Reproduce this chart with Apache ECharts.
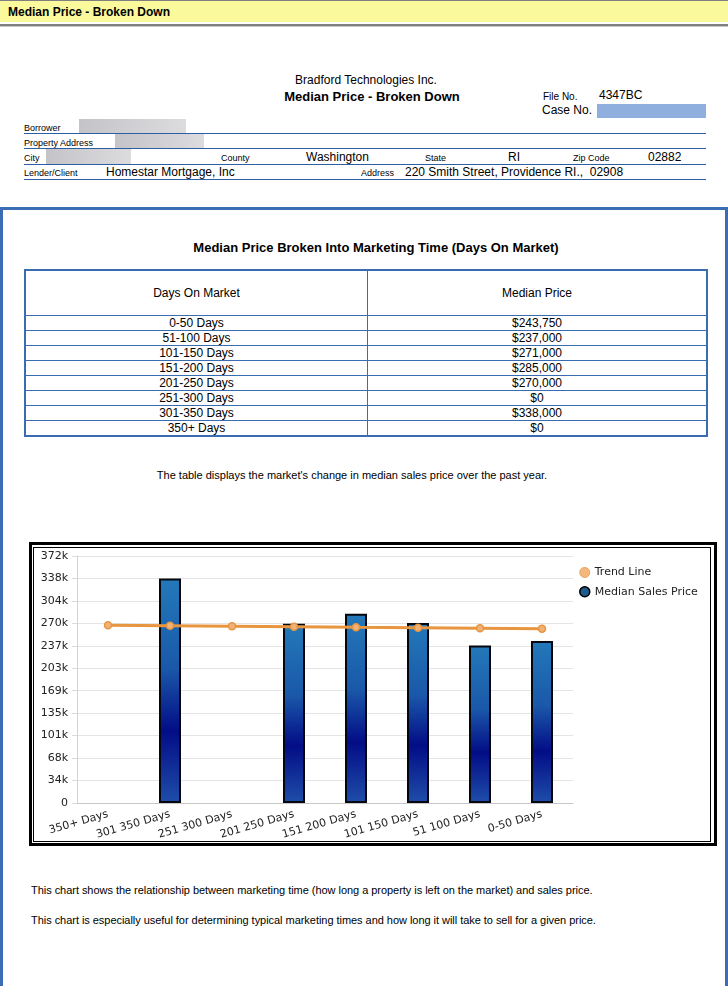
<!DOCTYPE html>
<html>
<head>
<meta charset="utf-8">
<title>Median Price - Broken Down</title>
<script src="https://cdn.jsdelivr.net/npm/echarts@6/dist/echarts.min.js"></script>
<style>
  html, body { margin: 0; padding: 0; background: #fff; }
  body { width: 728px; height: 986px; position: relative; overflow: hidden; font-family: "Liberation Sans", Arial, sans-serif; color: #000; }
  .abs { position: absolute; white-space: nowrap; }
  .lbl { font-size: 9px; line-height: 10px; }
  .val { font-size: 12px; line-height: 14px; }
  .rule { position: absolute; left: 24px; width: 682px; height: 1px; background: #2c5ea6; }
  .mask { position: absolute; background: linear-gradient(to right, #c4c4c8, #dcdcdf); }
  #grid-table { position: absolute; left: 24px; top: 269px; width: 684px; border-collapse: collapse; border: 2px solid #3a6cb3; font-size: 12px; }
  #grid-table td, #grid-table th { border: 1px solid #3a6cb3; text-align: center; padding: 0; font-weight: normal; }
  #grid-table th { height: 44px; }
  #grid-table td { height: 14px; line-height: 14px; }
</style>
</head>
<body>
<!-- top bar -->
<div class="abs" style="left:0;top:0;width:728px;height:21px;background:#fafa9c;border-top:1px solid #808080;"></div>
<div class="abs" style="left:8px;top:5px;font-size:12px;line-height:14px;font-weight:bold;">Median Price - Broken Down</div>
<div class="abs" style="left:0;top:24px;width:728px;height:2px;background:#7f7f7f;"></div>
<div class="abs" style="left:0;top:26px;width:728px;height:1px;background:#c8c8c8;"></div>

<!-- report header -->
<div class="abs" style="left:266px;top:73px;width:200px;text-align:center;font-size:12px;line-height:14px;">Bradford Technologies Inc.</div>
<div class="abs" style="left:222px;top:89px;width:300px;text-align:center;font-size:13px;line-height:15px;font-weight:bold;">Median Price - Broken Down</div>
<div class="abs" style="left:543px;top:91px;font-size:10px;line-height:12px;">File No.</div>
<div class="abs val" style="left:599px;top:88px;">4347BC</div>
<div class="abs val" style="left:542px;top:103px;">Case No.</div>
<div class="abs" style="left:597px;top:104px;width:109px;height:14px;background:#8fb0df;"></div>

<div class="mask" style="left:79px;top:119px;width:107px;height:14px;"></div>
<div class="mask" style="left:115px;top:134px;width:89px;height:14px;"></div>
<div class="mask" style="left:46px;top:149px;width:85px;height:15px;"></div>

<div class="abs lbl" style="left:24px;top:123px;">Borrower</div>
<div class="abs lbl" style="left:24px;top:138px;">Property Address</div>
<div class="abs lbl" style="left:24px;top:153px;">City</div>
<div class="abs lbl" style="left:221px;top:153px;">County</div>
<div class="abs val" style="left:306px;top:150px;">Washington</div>
<div class="abs lbl" style="left:425px;top:153px;">State</div>
<div class="abs val" style="left:508px;top:150px;">RI</div>
<div class="abs lbl" style="left:573px;top:153px;">Zip Code</div>
<div class="abs val" style="left:648px;top:150px;">02882</div>
<div class="abs lbl" style="left:24px;top:168px;">Lender/Client</div>
<div class="abs val" style="left:106px;top:165px;">Homestar Mortgage, Inc</div>
<div class="abs lbl" style="left:361px;top:168px;">Address</div>
<div class="abs val" style="left:405px;top:165px;">220 Smith Street, Providence RI.,&nbsp; 02908</div>

<div class="rule" style="top:133px;"></div>
<div class="rule" style="top:148px;"></div>
<div class="rule" style="top:164px;"></div>
<div class="rule" style="top:179px;"></div>

<!-- blue frame -->
<div class="abs" style="left:0;top:207px;width:728px;height:800px;border:3px solid #3c6db4;box-sizing:border-box;"></div>

<div class="abs" style="left:126px;top:240px;width:500px;text-align:center;font-size:13px;line-height:15px;font-weight:bold;">Median Price Broken Into Marketing Time (Days On Market)</div>

<table id="grid-table">
  <thead><tr><th style="width:341px;">Days On Market</th><th>Median Price</th></tr></thead>
  <tbody id="rows"></tbody>
</table>

<div class="abs" style="left:102px;top:469px;width:500px;text-align:center;font-size:11px;line-height:13px;">The table displays the market's change in median sales price over the past year.</div>

<!-- chart box -->
<div class="abs" style="left:29px;top:542px;width:688px;height:304px;border:3px solid #000;box-sizing:border-box;"></div>
<div class="abs" style="left:33px;top:547px;width:678px;height:295px;border:1px solid #000;box-sizing:border-box;"></div>
<div id="chart" class="abs" style="left:36px;top:549px;width:672px;height:290px;"></div>

<div class="abs" style="left:31px;top:884px;font-size:11px;line-height:13px;letter-spacing:-0.04px;">This chart shows the relationship between marketing time (how long a property is left on the market) and sales price.</div>
<div class="abs" style="left:31px;top:914px;font-size:11px;line-height:13px;letter-spacing:-0.04px;">This chart is especially useful for determining typical marketing times and how long it will take to sell for a given price.</div>

<script>
// table data
var tableDays = ['0-50 Days', '51-100 Days', '101-150 Days', '151-200 Days', '201-250 Days', '251-300 Days', '301-350 Days', '350+ Days']
var tablePrices = ['$243,750', '$237,000', '$271,000', '$285,000', '$270,000', '$0', '$338,000', '$0']

// chart data (as drawn, newest range on the right)
var chartCategories = ['350+ Days', '301 350 Days', '251 300 Days', '201 250 Days', '151 200 Days', '101 150 Days', '51 100 Days', '0-50 Days']
var salesPrice = [0, 338000, 0, 270000, 285000, 271000, 237000, 243750]
var trendLine = [267400, 266700, 266000, 265300, 264500, 263800, 263100, 262400]

// y axis ticks: 0, 34k ... 372k
var yMin = 0
var yMax = 371800
var yStep = 33800

var tbody = document.getElementById('rows')
for (var i = 0; i < tableDays.length; i++) {
  var tr = document.createElement('tr')
  tr.innerHTML = '<td>' + tableDays[i] + '</td><td>' + tablePrices[i] + '</td>'
  tbody.appendChild(tr)
}

var chart = echarts.init(document.getElementById('chart'))

var barData = salesPrice.map(function(v) {
  // empty ranges draw nothing, not even the outline
  return v === 0 ? { value: 0, itemStyle: { borderWidth: 0 } } : v
})

chart.setOption({
  animation: false,
  textStyle: { fontFamily: 'DejaVu Sans' },
  legend: {
    orient: 'vertical',
    left: 538,
    top: 13,
    icon: 'circle',
    itemWidth: 10,
    itemHeight: 10,
    itemGap: 8,
    textStyle: { fontSize: 11, color: '#222', fontFamily: 'DejaVu Sans' },
    data: [
      { name: 'Trend Line', itemStyle: { color: '#f4b77c', borderColor: '#e9a35a', borderWidth: 1 } },
      { name: 'Median Sales Price', itemStyle: { color: '#1d5c8c', borderColor: '#000', borderWidth: 1.5 } }
    ]
  },
  grid: {
    left: 41,
    top: 7,
    width: 496,
    height: 247,
    outerBoundsMode: 'none'
  },
  xAxis: {
    type: 'category',
    data: chartCategories,
    axisLine: { lineStyle: { color: '#c8c8c8' } },
    axisTick: { show: false },
    axisLabel: { rotate: 16, margin: 11, fontSize: 11, color: '#222', interval: 0 }
  },
  yAxis: {
    type: 'value',
    min: yMin,
    max: yMax,
    interval: yStep,
    axisLine: { show: true, lineStyle: { color: '#d4d4d4' } },
    axisTick: { show: true, length: 5, lineStyle: { color: '#dcdcdc' } },
    splitLine: { lineStyle: { color: '#e4e4e4' } },
    axisLabel: {
      fontSize: 11,
      color: '#222',
      margin: 9,
      formatter: function(v) { return v === 0 ? '0' : Math.round(v / 1000) + 'k' }
    }
  },
  series: [
    {
      name: 'Median Sales Price',
      type: 'bar',
      barWidth: 22,
      data: barData,
      itemStyle: {
        borderColor: '#05070f',
        borderWidth: 2,
        color: new echarts.graphic.LinearGradient(0, 0, 0, 1, [
          { offset: 0, color: '#2379b9' },
          { offset: 0.4, color: '#1a58a9' },
          { offset: 0.68, color: '#030d86' },
          { offset: 1, color: '#1f4ea9' }
        ])
      }
    },
    {
      name: 'Trend Line',
      type: 'line',
      z: 3,
      data: trendLine,
      symbol: 'circle',
      symbolSize: 7,
      lineStyle: { color: '#e8953f', width: 3 },
      itemStyle: { color: '#f0b277', borderColor: '#e8953f', borderWidth: 1.5 }
    }
  ]
})
</script>
</body>
</html>
